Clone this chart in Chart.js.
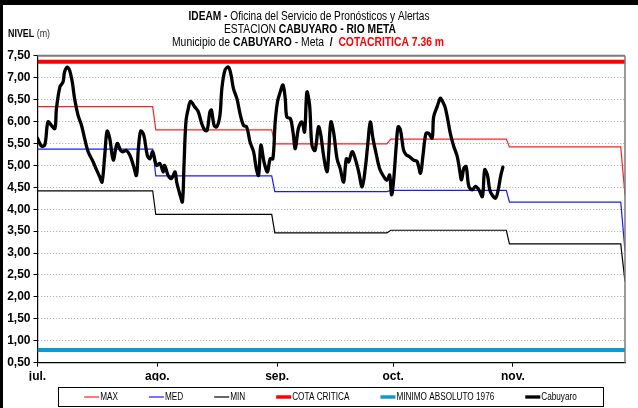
<!DOCTYPE html>
<html>
<head>
<meta charset="utf-8">
<script src="https://cdn.jsdelivr.net/npm/chart.js@4.4.1/dist/chart.umd.min.js"></script>
<style>
  html, body { margin: 0; padding: 0; background: #fff; }
</style>
</head>
<body>
<canvas id="nivelChart" width="638" height="408"></canvas>
<script>
// x axis: day index counted from 1 July
const monthDays = [0, 31, 62, 92, 123];
const monthLabels = ['jul.', 'ago.', 'sep.', 'oct.', 'nov.'];

// historical monthly levels (step lines)
const statDays  = [0, 29.8, 30.6, 60.6, 61.4, 90.4, 91.4, 121.3, 122.1, 150.9, 152];
const maxLevels = [6.34, 6.34, 5.81, 5.81, 5.49, 5.49, 5.60, 5.60, 5.42, 5.42, 4.32];
const medLevels = [5.37, 5.37, 4.76, 4.76, 4.40, 4.40, 4.43, 4.43, 4.16, 4.16, 3.05];
const minLevels = [4.42, 4.42, 3.88, 3.88, 3.46, 3.46, 3.52, 3.52, 3.21, 3.21, 2.35];

const cotaCritica = 7.36;
const minimoAbsoluto = 0.79;

// Cabuyaro readings
const cabuyaroDays = [
  0, 1, 1.9, 2.7, 3.6, 4.5, 4.9, 5.8, 6.6, 7.0, 7.7, 8.3, 9.0, 9.6, 10.5, 11.4, 12.2, 13.1, 14.4, 15.3,
  16.1, 16.7, 17.4, 18.0, 18.7, 19.6, 20.6, 21.5, 22.0, 23.0, 23.9, 24.8, 25.6, 26.1, 26.7, 27.5, 28.4, 29.1, 29.8,
  30.8, 31.7, 32.5, 32.9, 33.8, 34.7, 35.6, 36.0, 36.9, 37.5, 37.9, 38.4, 39.0, 39.6, 40.7, 41.6, 42.5, 43.3, 43.9, 44.6,
  45.0, 45.7, 46.4, 47.2, 47.7, 48.5, 49.4, 50.0, 50.7, 51.6, 52.4, 53.3, 54.1, 55.0, 55.9, 56.6, 57.2, 57.8, 58.6, 59.5, 60.2,
  60.9, 61.5, 62.1, 62.8, 63.5, 64.1, 64.5, 65.4, 66.1, 66.7, 67.5, 68.4, 69.1, 69.7, 70.4, 71.0, 71.8, 72.7, 73.3, 74.0,
  74.9, 75.3, 75.9, 76.6, 77.5, 78.3, 79.2, 79.9, 80.5, 81.4, 82.2, 83.1, 84.0, 84.8, 85.5, 86.1, 86.8, 87.7, 88.5, 89.6,
  90.4, 91.1, 91.6, 92.1, 92.8, 93.3, 93.9, 94.7, 95.4, 96.2, 97.3, 98.2, 99.1, 99.7, 100.5, 101.2, 102.1, 102.5, 103.4, 104.2,
  104.6, 105.4, 106.0, 106.8, 107.7, 108.6, 109.2, 109.7, 110.3, 110.9, 111.6, 112.5, 113.3, 114.2, 115.1, 115.7, 116.4, 117.0, 117.6, 118.5,
  119.2, 119.8, 120.4
];
const cabuyaroLevels = [
  5.62, 5.44, 5.47, 5.99, 5.91, 5.84, 6.29, 6.79, 6.90, 7.13, 7.24, 7.17, 6.90, 6.52, 6.14, 5.91, 5.61, 5.31, 5.08, 4.89,
  4.74, 4.62, 5.23, 5.78, 5.61, 5.12, 5.50, 5.34, 5.31, 5.34, 5.23, 5.00, 4.77, 5.38, 5.78, 5.69, 5.23, 5.15, 5.31,
  5.00, 5.04, 4.85, 5.00, 4.77, 4.70, 4.85, 4.62, 4.32, 4.17, 5.00, 5.99, 6.29, 6.46, 6.33, 6.22, 5.95, 5.80, 5.80, 6.22,
  6.26, 5.91, 5.88, 6.14, 6.75, 7.17, 7.24, 7.09, 6.75, 6.52, 6.18, 5.91, 5.88, 5.53, 5.31, 4.93, 4.77, 5.46, 5.08, 4.85, 5.15,
  5.15, 5.99, 6.45, 6.67, 6.83, 6.52, 6.10, 6.07, 5.76, 5.38, 5.84, 5.99, 5.76, 6.67, 6.37, 5.46, 5.34, 5.88, 5.69, 5.23,
  4.85, 5.23, 5.99, 5.76, 5.15, 4.93, 4.62, 5.15, 5.08, 5.31, 5.15, 4.85, 4.51, 4.93, 5.53, 5.99, 5.61, 5.23, 4.93, 4.74,
  4.66, 4.78, 4.33, 4.62, 5.43, 5.88, 5.81, 5.35, 5.24, 5.20, 5.12, 5.09, 4.82, 5.20, 5.73, 5.73, 5.62, 6.11, 6.34, 6.53,
  6.49, 6.34, 6.11, 5.73, 5.43, 5.20, 4.90, 4.67, 4.93, 4.97, 4.52, 4.44, 4.52, 4.44, 4.29, 4.90, 4.78, 4.44, 4.33, 4.25,
  4.44, 4.74, 4.96
];

const FONT = '"Liberation Sans", Arial, sans-serif';
const lastDay = 152;

function toPoints(xs, ys) {
  return xs.map((x, i) => ({ x: x, y: ys[i] }));
}

// draws a line of mixed bold/normal text, squeezed to a given width (narrow look)
function drawRich(ctx, parts, cx, cy, width, size) {
  let total = 0;
  parts.forEach(p => {
    ctx.font = (p.bold ? 'bold ' : '') + size + 'px ' + FONT;
    p.w = ctx.measureText(p.text).width;
    total += p.w;
  });
  ctx.save();
  ctx.translate(cx - width / 2, cy);
  ctx.scale(width / total, 1);
  ctx.textBaseline = 'middle';
  ctx.textAlign = 'left';
  let x = 0;
  parts.forEach(p => {
    ctx.font = (p.bold ? 'bold ' : '') + size + 'px ' + FONT;
    ctx.fillStyle = p.color || '#000';
    ctx.fillText(p.text, x, 0);
    x += p.w;
  });
  ctx.restore();
}

const decorPlugin = {
  id: 'decor',
  beforeDraw(chart) {
    const ctx = chart.ctx;
    ctx.save();
    ctx.fillStyle = '#fff';
    ctx.fillRect(0, 0, chart.width, chart.height);
    ctx.restore();
  },
  afterDraw(chart) {
    const ctx = chart.ctx;
    const area = chart.chartArea;
    ctx.save();

    // plot frame (top and right)
    ctx.strokeStyle = '#7a7a7a';
    ctx.lineWidth = 2;
    ctx.beginPath();
    ctx.moveTo(area.left, area.top);
    ctx.lineTo(area.right, area.top);
    ctx.stroke();
    ctx.lineWidth = 1.5;
    ctx.beginPath();
    ctx.moveTo(area.right, area.top);
    ctx.lineTo(area.right, area.bottom);
    ctx.stroke();

    // outer frame
    ctx.fillStyle = '#000';
    ctx.fillRect(0, 0, chart.width, 5);
    ctx.fillRect(0, 0, 3, chart.height);

    // titles
    drawRich(ctx, [
      { text: 'IDEAM - ', bold: true },
      { text: 'Oficina del Servicio de Pronósticos y Alertas' }
    ], 309, 17, 241, 12);
    drawRich(ctx, [
      { text: 'ESTACION ' },
      { text: 'CABUYARO - RIO META', bold: true }
    ], 310, 30, 172, 12);
    drawRich(ctx, [
      { text: 'Municipio de ' },
      { text: 'CABUYARO', bold: true },
      { text: ' - Meta  ' },
      { text: '/  ', bold: true },
      { text: 'COTACRITICA 7.36 m', bold: true, color: '#ff0000' }
    ], 308, 43, 272, 12);
    drawRich(ctx, [
      { text: 'NIVEL ', bold: true },
      { text: '(m)', color: '#333' }
    ], 29, 34, 42, 10);

    // legend
    const box = { left: 58, top: 387, right: 603, bottom: 406 };
    ctx.strokeStyle = '#000';
    ctx.lineWidth = 1;
    ctx.strokeRect(box.left + 0.5, box.top + 0.5, box.right - box.left, box.bottom - box.top);

    const squeeze = 0.82;
    const sample = 15, gap = 31;
    ctx.font = '10px ' + FONT;
    const items = chart.data.datasets.map(ds => ({
      label: ds.label,
      color: ds.borderColor,
      width: Math.min(ds.borderWidth, 3.5),
      textW: ctx.measureText(ds.label).width * squeeze
    }));
    let total = 0;
    items.forEach((it, i) => { total += sample + 1 + it.textW + (i ? gap : 0); });
    let x = (box.left + box.right) / 2 - total / 2;
    const cy = (box.top + box.bottom) / 2 + 0.5;
    items.forEach(it => {
      ctx.strokeStyle = it.color;
      ctx.lineWidth = it.width;
      ctx.beginPath();
      ctx.moveTo(x, cy);
      ctx.lineTo(x + sample, cy);
      ctx.stroke();
      ctx.save();
      ctx.translate(x + sample + 1, cy);
      ctx.scale(squeeze, 1);
      ctx.fillStyle = '#000';
      ctx.textBaseline = 'middle';
      ctx.fillText(it.label, 0, 0);
      ctx.restore();
      x += sample + 1 + it.textW + gap;
    });
    ctx.restore();
  }
};

const ctx = document.getElementById('nivelChart').getContext('2d');

new Chart(ctx, {
  type: 'line',
  data: {
    datasets: [
      { label: 'MAX', data: toPoints(statDays, maxLevels), borderColor: '#ff2020', borderWidth: 1.2, order: 1 },
      { label: 'MED', data: toPoints(statDays, medLevels), borderColor: '#1a1aff', borderWidth: 1.2, order: 1 },
      { label: 'MIN', data: toPoints(statDays, minLevels), borderColor: '#000000', borderWidth: 1.2, order: 1 },
      { label: 'COTA CRITICA', data: [{ x: 0, y: cotaCritica }, { x: lastDay, y: cotaCritica }], borderColor: '#ff0000', borderWidth: 4, order: 1 },
      { label: 'MINIMO ABSOLUTO 1976', data: [{ x: 0, y: minimoAbsoluto }, { x: lastDay, y: minimoAbsoluto }], borderColor: '#0c9bd0', borderWidth: 4, order: 1 },
      {
        label: 'Cabuyaro', data: toPoints(cabuyaroDays, cabuyaroLevels), borderColor: '#000000', borderWidth: 3.3,
        tension: 0.35, borderJoinStyle: 'round', borderCapStyle: 'round', order: 0
      }
    ]
  },
  options: {
    responsive: false,
    animation: false,
    events: [],
    elements: {
      point: { radius: 0 },
      line: { tension: 0, fill: false }
    },
    layout: { padding: { left: 2.5, right: 13, top: 55.7, bottom: 27.3 } },
    scales: {
      x: {
        type: 'linear',
        min: 0,
        max: lastDay,
        afterFit: s => { s.height = 18; },
        afterBuildTicks: s => { s.ticks = monthDays.map(v => ({ value: v })); },
        ticks: {
          autoSkip: false,
          maxRotation: 0,
          padding: 3,
          color: '#000',
          font: { family: FONT, size: 12, weight: 'bold' },
          callback: v => monthLabels[monthDays.indexOf(v)]
        },
        grid: { drawOnChartArea: false, drawTicks: true, tickLength: 4, tickColor: '#000' },
        border: { color: '#000', width: 1.2 }
      },
      y: {
        min: 0.5,
        max: 7.5,
        afterFit: s => { s.width = 35; },
        ticks: {
          stepSize: 0.5,
          padding: 3,
          color: '#000',
          font: { family: FONT, size: 12, weight: 'bold' },
          callback: v => v.toFixed(2).replace('.', ',')
        },
        grid: {
          color: c => (c.tick && (c.tick.value === 7.5 || c.tick.value === 0.5)) ? 'rgba(0,0,0,0)' : '#a8a8a8',
          lineWidth: 1,
          tickLength: 4,
          tickColor: '#000'
        },
        border: { color: '#000', width: 1.2, dash: [1, 2] }
      }
    },
    plugins: {
      legend: { display: false },
      tooltip: { enabled: false },
      title: { display: false }
    }
  },
  plugins: [decorPlugin]
});
</script>
</body>
</html>
